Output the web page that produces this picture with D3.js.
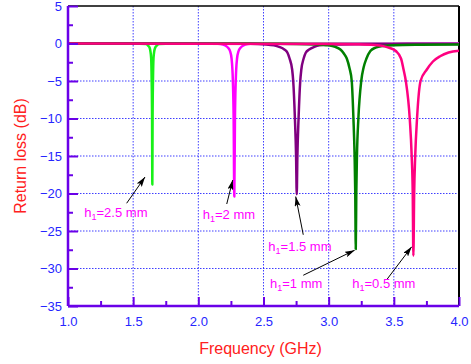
<!DOCTYPE html>
<html>
<head>
<meta charset="utf-8">
<script src="https://cdn.jsdelivr.net/npm/d3@7"></script>
<style>
  body { margin: 0; background: #fff; }
  svg { display: block; font-family: "Liberation Sans", Arial, sans-serif; }
</style>
</head>
<body>
<div id="chart"></div>
<script>
// Set margins and dimensions
const margin = { top: 6, right: 12, bottom: 58, left: 68 };
const width = 471 - margin.left - margin.right;
const height = 364 - margin.top - margin.bottom;

// Tick values
const xTicks = [1.0, 1.5, 2.0, 2.5, 3.0, 3.5, 4.0];
const xMinor = [1.25, 1.75, 2.25, 2.75, 3.25, 3.75];
const yTicks = [5, 0, -5, -10, -15, -20, -25, -30, -35];
const yMinor = [2.5, -2.5, -7.5, -12.5, -17.5, -22.5, -27.5, -32.5];

// Return loss curves [GHz, dB]
const h25 = [[1.0, 0], [1.55, -0.02], [1.60, -0.08], [1.615, -0.3], [1.627, -0.6], [1.632, -1], [1.638, -2],
  [1.642, -5], [1.645, -10], [1.647, -18.8], [1.649, -10], [1.652, -5], [1.656, -2], [1.662, -1],
  [1.668, -0.6], [1.68, -0.3], [1.70, -0.08], [1.75, -0.02], [4.0, 0]];
const h20 = [[1.0, 0], [2.15, -0.05], [2.19, -0.15], [2.21, -0.3], [2.23, -0.6], [2.243, -1], [2.255, -2],
  [2.265, -5], [2.271, -10], [2.276, -20.4], [2.281, -10], [2.287, -5], [2.297, -2], [2.309, -1],
  [2.322, -0.6], [2.342, -0.3], [2.36, -0.15], [2.40, -0.05], [4.0, 0]];
const h15 = [[1.0, 0], [2.4, -0.04], [2.52, -0.12], [2.58, -0.25], [2.62, -0.45], [2.66, -0.8], [2.683, -1.2],
  [2.70, -2], [2.72, -3.5], [2.728, -5], [2.741, -10], [2.750, -15], [2.755, -20.1], [2.760, -15],
  [2.769, -10], [2.782, -5], [2.790, -3.5], [2.808, -2], [2.825, -1.2], [2.85, -0.8], [2.89, -0.45],
  [2.93, -0.25], [3.0, -0.15], [3.2, -0.1], [3.6, -0.08], [4.0, -0.06]];
const h10 = [[1.0, 0], [2.6, -0.03], [2.9, -0.12], [3.0, -0.25], [3.05, -0.45], [3.09, -0.8], [3.115, -1.3],
  [3.139, -2], [3.16, -3.3], [3.177, -5], [3.19, -10], [3.199, -15], [3.204, -20], [3.208, -27.4],
  [3.212, -20], [3.217, -15], [3.228, -10], [3.25, -5], [3.268, -3.2], [3.29, -2], [3.32, -1],
  [3.36, -0.55], [3.42, -0.32], [3.5, -0.22], [3.7, -0.16], [4.0, -0.13]];
const h05 = [[1.0, 0], [3.0, -0.05], [3.2, -0.1], [3.35, -0.2], [3.42, -0.35], [3.47, -0.6], [3.515, -1],
  [3.555, -2], [3.575, -3.5], [3.592, -5], [3.622, -10], [3.637, -15], [3.645, -20], [3.650, -28.3],
  [3.656, -20], [3.664, -15], [3.678, -10], [3.705, -5], [3.752, -3.5], [3.80, -2.4], [3.855, -1.7],
  [3.92, -1.2], [4.0, -0.95]];

const series = [
  { name: "h25", data: h25, color: "#18f018" },
  { name: "h20", data: h20, color: "#ff00ff" },
  { name: "h15", data: h15, color: "#800080" },
  { name: "h10", data: h10, color: "#008000" },
  { name: "h05", data: h05, color: "#ff0080" }
];

// Annotations: label position and arrow tail -> head, in data units
const labels = [
  { main: "=2.5 mm", x: 1.125, y: -23.1, arrow: [[1.450, -21.3], [1.591, -17.8]] },
  { main: "=2 mm", x: 2.034, y: -23.45, arrow: [[2.218, -21.4], [2.264, -18.2]] },
  { main: "=1.5 mm", x: 2.537, y: -27.7, arrow: [[2.805, -25.5], [2.747, -20.4]] },
  { main: "=1 mm", x: 2.550, y: -32.65, arrow: [[2.805, -30.9], [3.200, -27.55]] },
  { main: "=0.5 mm", x: 3.181, y: -32.65, arrow: [[3.445, -31.5], [3.637, -27.1]] }
];

const svg = d3.select("#chart")
  .append("svg")
  .attr("width", width + margin.left + margin.right)
  .attr("height", height + margin.top + margin.bottom)
  .append("g")
  .attr("transform", `translate(${margin.left},${margin.top})`);

const x = d3.scaleLinear().domain([1.0, 4.0]).range([0, width]);
const y = d3.scaleLinear().domain([-35, 5]).range([height, 0]);

svg.append("defs").append("marker")
  .attr("id", "arrow")
  .attr("viewBox", "0 0 10 6")
  .attr("refX", 10).attr("refY", 3)
  .attr("markerWidth", 10).attr("markerHeight", 6)
  .attr("markerUnits", "userSpaceOnUse")
  .attr("orient", "auto")
  .append("path")
  .attr("d", "M0,0 L10,3 L0,6 L2,3 Z")
  .attr("fill", "#000");

svg.append("clipPath").attr("id", "clip")
  .append("rect").attr("width", width).attr("height", height);

// Grid
svg.append("g")
  .selectAll("line")
  .data(xTicks.slice(1, -1))
  .join("line")
  .attr("x1", d => x(d)).attr("x2", d => x(d))
  .attr("y1", 0).attr("y2", height)
  .attr("stroke", "#0000ff").attr("stroke-width", 1)
  .attr("stroke-dasharray", "1.5,1.5").attr("opacity", 0.75);

svg.append("g")
  .selectAll("line")
  .data(yTicks.slice(1, -1))
  .join("line")
  .attr("x1", 0).attr("x2", width)
  .attr("y1", d => y(d)).attr("y2", d => y(d))
  .attr("stroke", "#0000ff").attr("stroke-width", 1)
  .attr("stroke-dasharray", "1.5,1.5").attr("opacity", 0.75);

// Frame: top and right black
svg.append("line").attr("x1", 0).attr("x2", width).attr("y1", 0).attr("y2", 0)
  .attr("stroke", "#000").attr("stroke-width", 1.5);
svg.append("line").attr("x1", width).attr("x2", width).attr("y1", 0).attr("y2", height)
  .attr("stroke", "#000").attr("stroke-width", 2);

// Curves
const line = d3.line()
  .x(d => x(d[0]))
  .y(d => y(d[1]))
  .curve(d3.curveMonotoneX);

svg.append("g")
  .attr("clip-path", "url(#clip)")
  .selectAll("path")
  .data(series)
  .join("path")
  .attr("d", d => line(d.data))
  .attr("fill", "none")
  .attr("stroke", d => d.color)
  .attr("stroke-width", 2.5)
  .attr("stroke-linejoin", "round");

// Axes
const axisColor = "#6a00e8";
const labelColor = "#2626ff";

function styleAxis(g) {
  g.select(".domain").remove();
  g.selectAll(".tick line").attr("stroke", axisColor).attr("stroke-width", 2);
  g.selectAll(".tick text").attr("fill", labelColor).attr("font-size", 13)
    .attr("font-family", "Liberation Sans, Arial, sans-serif");
}

svg.append("g")
  .attr("transform", `translate(0,${height})`)
  .call(d3.axisBottom(x).tickValues(xTicks).tickFormat(d3.format(".1f"))
    .tickSizeInner(-9).tickSizeOuter(0).tickPadding(11))
  .call(styleAxis);

svg.append("g")
  .attr("transform", `translate(0,${height})`)
  .call(d3.axisBottom(x).tickValues(xMinor).tickFormat("").tickSizeInner(-5).tickSizeOuter(0))
  .call(styleAxis);

svg.append("g")
  .call(d3.axisLeft(y).tickValues(yTicks).tickFormat(d3.format("d"))
    .tickSizeInner(-10).tickSizeOuter(0).tickPadding(6))
  .call(styleAxis);

svg.append("g")
  .call(d3.axisLeft(y).tickValues(yMinor).tickFormat("").tickSizeInner(-5).tickSizeOuter(0))
  .call(styleAxis);

// Left and bottom axis lines
svg.append("line").attr("x1", 0).attr("x2", width).attr("y1", height).attr("y2", height)
  .attr("stroke", axisColor).attr("stroke-width", 2.5);
svg.append("line").attr("x1", 0).attr("x2", 0).attr("y1", 0).attr("y2", height)
  .attr("stroke", axisColor).attr("stroke-width", 2.5);

// Annotations
const ann = svg.append("g");
labels.forEach(l => {
  ann.append("line")
    .attr("x1", x(l.arrow[0][0])).attr("y1", y(l.arrow[0][1]))
    .attr("x2", x(l.arrow[1][0])).attr("y2", y(l.arrow[1][1]))
    .attr("stroke", "#000").attr("stroke-width", 1)
    .attr("marker-end", "url(#arrow)");

  const t = ann.append("text")
    .attr("x", x(l.x)).attr("y", y(l.y))
    .attr("fill", "#ff00ff").attr("font-size", 13);
  t.append("tspan").text("h");
  t.append("tspan").attr("font-size", 9).attr("dy", 3).text("1");
  t.append("tspan").attr("dy", -3).text(l.main);
});

// Axis titles
svg.append("text")
  .attr("x", width / 2 - 3)
  .attr("y", height + 48)
  .attr("text-anchor", "middle")
  .attr("fill", "#ff2020")
  .attr("font-size", 16)
  .text("Frequency (GHz)");

svg.append("text")
  .attr("transform", `translate(${26 - margin.left},${height / 2}) rotate(-90)`)
  .attr("text-anchor", "middle")
  .attr("fill", "#ff2020")
  .attr("font-size", 16)
  .text("Return loss (dB)");
</script>
</body>
</html>
